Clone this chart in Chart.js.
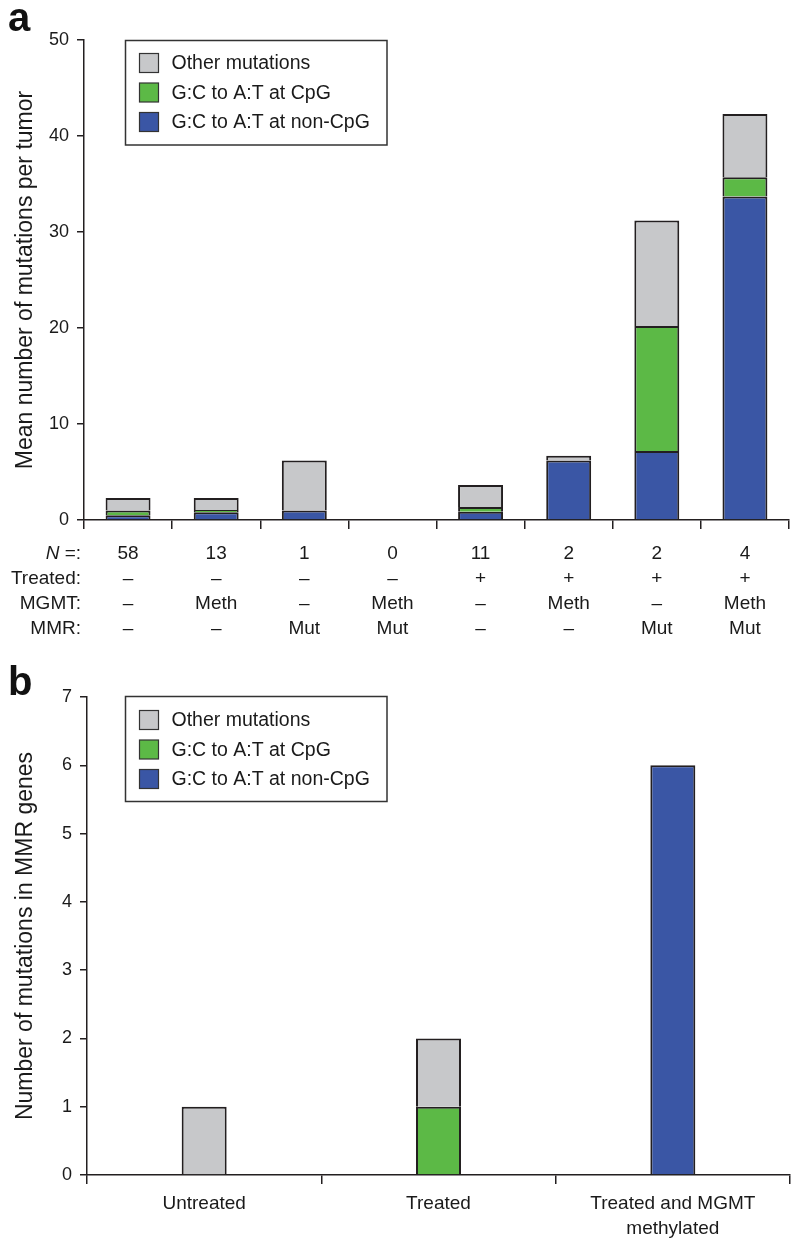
<!DOCTYPE html>
<html><head><meta charset="utf-8">
<script src="https://cdn.jsdelivr.net/npm/chart.js@4.4.1/dist/chart.umd.min.js"></script>
<style>
html,body{margin:0;padding:0;background:#fff;}
#wrap{position:relative;width:800px;height:1244px;overflow:hidden;}
.panel{position:absolute;left:0;width:800px;}
#pa{top:0;height:650px;}
#pb{top:650px;height:594px;}
.letter{position:absolute;font:bold 40px 'Liberation Sans',Arial,sans-serif;color:#111;line-height:46px;}
</style></head>
<body><div id="wrap">
<div class="panel" id="pa"><canvas id="ca"></canvas></div>
<div class="panel" id="pb"><canvas id="cb"></canvas></div>
<div class="letter" style="left:8px;top:-6px">a</div>
<div class="letter" style="left:8px;top:658px">b</div>
</div>
<script>
// ---- shared series ----
const seriesNames = ['G:C to A:T at non-CpG', 'G:C to A:T at CpG', 'Other mutations'];
const seriesColors = ['#3a56a5', '#5cb946', '#c7c8ca'];

// ---- panel a ----
const nValues   = ['58', '13', '1', '0', '11', '2', '2', '4'];
const treatedRow = ['–', '–', '–', '–', '+', '+', '+', '+'];
const mgmtRow    = ['–', 'Meth', '–', 'Meth', '–', 'Meth', '–', 'Meth'];
const mmrRow     = ['–', '–', 'Mut', 'Mut', '–', '–', 'Mut', 'Mut'];
const rowLabels  = ['N =:', 'Treated:', 'MGMT:', 'MMR:'];
const aNonCpG = [0.5, 0.8, 1.0, 0, 0.85, 6.2, 7.2, 33.7];
const aCpG    = [0.5, 0.25, 0, 0, 0.5, 0, 13.0, 2.0];
const aOther  = [1.3, 1.25, 5.2, 0, 2.3, 0.5, 11.0, 6.6];
const aYMax = 50, aYStep = 10;
const aYTitle = 'Mean number of mutations per tumor';

// ---- panel b ----
const bCategories = ['Untreated', 'Treated', ['Treated and MGMT', 'methylated']];
const bNonCpG = [0, 0, 6];
const bCpG    = [0, 1, 0];
const bOther  = [1, 1, 0];
const bYMax = 7, bYStep = 1;
const bYTitle = 'Number of mutations in MMR genes';

const FF = "'Liberation Sans', Arial, Helvetica, sans-serif";
const INK = '#231f20';

const aLabels = nValues.map((n, i) => [n, treatedRow[i], mgmtRow[i], mmrRow[i]]);

function makeDatasets(vals, barPct) {
  return vals.map((v, i) => ({
    label: seriesNames[i],
    data: v,
    backgroundColor: seriesColors[i],
    borderColor: INK,
    borderWidth: 2,
    borderSkipped: 'start',
    barPercentage: barPct,
    categoryPercentage: 1.0
  }));
}

const boxLegendPlugin = {
  id: 'boxLegend',
  afterDraw(chart, args, opts) {
    if (!opts || !opts.box) return;
    const ctx = chart.ctx;
    const b = opts.box;
    ctx.save();
    ctx.lineWidth = 1.5;
    ctx.strokeStyle = '#333';
    ctx.strokeRect(b.x, b.y, b.w, b.h);
    const ds = chart.data.datasets.slice().reverse();
    ds.forEach((d, i) => {
      const cy = b.y + opts.firstRow + i * opts.rowGap;
      ctx.fillStyle = d.backgroundColor;
      ctx.fillRect(b.x + 14, cy - 9.5, 19, 19);
      ctx.lineWidth = 1.2;
      ctx.strokeStyle = '#333';
      ctx.strokeRect(b.x + 14, cy - 9.5, 19, 19);
      ctx.fillStyle = '#1a1a1a';
      ctx.font = '19.5px ' + FF;
      ctx.textAlign = 'left';
      ctx.textBaseline = 'middle';
      ctx.fillText(d.label, b.x + 46, cy + 1);
    });
    ctx.restore();
  }
};

const rowLabelPlugin = {
  id: 'rowLabels',
  afterDraw(chart, args, opts) {
    if (!opts || !opts.rows) return;
    const ctx = chart.ctx;
    const top = chart.scales.x.top;
    ctx.save();
    ctx.fillStyle = '#1a1a1a';
    ctx.textBaseline = 'middle';
    ctx.textAlign = 'right';
    opts.rows.forEach((lab, i) => {
      const y = top + opts.dy + i * opts.lh;
      if (i === 0) {
        const rest = lab.slice(1);
        ctx.font = '19px ' + FF;
        const wr = ctx.measureText(rest).width;
        ctx.fillText(rest, opts.x, y);
        ctx.font = 'italic 19px ' + FF;
        ctx.fillText(lab[0], opts.x - wr, y);
      } else {
        ctx.font = '19px ' + FF;
        ctx.fillText(lab, opts.x, y);
      }
    });
    ctx.restore();
  }
};

function axisCommon() {
  return {
    border: { display: true, color: INK, width: 1.5 },
    grid: { display: true, drawOnChartArea: false, drawTicks: true, color: INK, lineWidth: 1.5 }
  };
}

function makeChart(canvasId, labels, vals, yMax, yStep, yTitle, barPct, cfg) {
  const xc = axisCommon();
  const yc = axisCommon();
  return new Chart(document.getElementById(canvasId), {
    type: 'bar',
    data: { labels: labels, datasets: makeDatasets(vals, barPct) },
    plugins: [boxLegendPlugin, rowLabelPlugin],
    options: {
      responsive: true,
      maintainAspectRatio: false,
      animation: false,
      layout: { padding: { top: cfg.padTop, right: cfg.padRight, left: 0, bottom: 0 } },
      plugins: {
        legend: { display: false },
        tooltip: { enabled: false },
        boxLegend: cfg.legend,
        rowLabels: cfg.rows || {}
      },
      scales: {
        x: {
          stacked: true,
          offset: true,
          border: xc.border,
          grid: Object.assign({}, xc.grid, { offset: true, tickLength: 9 }),
          ticks: {
            color: '#1a1a1a',
            font: { family: FF, size: 19, lineHeight: 1.316 },
            padding: cfg.xPad,
            maxRotation: 0, minRotation: 0, autoSkip: false
          },
          afterFit(s) { s.height = cfg.xHeight; }
        },
        y: {
          stacked: true,
          min: 0, max: yMax,
          border: yc.border,
          grid: Object.assign({}, yc.grid, { tickLength: 7 }),
          ticks: {
            stepSize: yStep,
            color: '#1a1a1a',
            font: { family: FF, size: 18 },
            padding: 8
          },
          title: {
            display: true,
            text: yTitle,
            color: '#1a1a1a',
            font: { family: FF, size: 23 },
            padding: { top: 11.5, bottom: 0 }
          },
          afterFit(s) { s.width = cfg.yWidth; }
        }
      }
    }
  });
}

makeChart('ca', aLabels, [aNonCpG, aCpG, aOther], aYMax, aYStep, aYTitle, 0.51, {
  padTop: 40, padRight: 11, xHeight: 130, yWidth: 84, xPad: 12,
  legend: { box: { x: 125.5, y: 40.5, w: 261.5, h: 104.5 }, firstRow: 22.5, rowGap: 29.5 },
  rows: { rows: rowLabels, x: 81, dy: 33.5, lh: 25 }
});

makeChart('cb', bCategories, [bNonCpG, bCpG, bOther], bYMax, bYStep, bYTitle, 0.192, {
  padTop: 47, padRight: 10, xHeight: 69, yWidth: 87, xPad: 7,
  legend: { box: { x: 125.5, y: 46.5, w: 261.5, h: 105 }, firstRow: 23.5, rowGap: 29.5 }
});
</script>
</body></html>
